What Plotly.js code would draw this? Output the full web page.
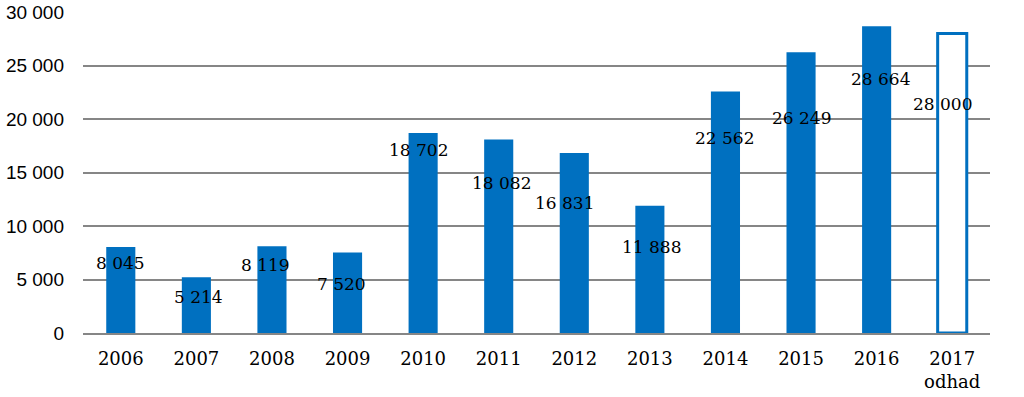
<!DOCTYPE html>
<html>
<head>
<meta charset="utf-8">
<script src="https://cdn.plot.ly/plotly-3.0.1.min.js"></script>
<style>html,body{margin:0;padding:0;background:#fff;}#chart{width:1024px;height:397px;}</style>
</head>
<body>
<div id="chart"></div>
<script>
// Data
const years = ['2006','2007','2008','2009','2010','2011','2012','2013','2014','2015','2016','2017'];
const tickLabels = ['2006','2007','2008','2009','2010','2011','2012','2013','2014','2015','2016','2017<br>odhad'];
const values = [8045, 5214, 8119, 7520, 18702, 18082, 16831, 11888, 22562, 26249, 28664, 28000];
const isEstimate = [false,false,false,false,false,false,false,false,false,false,false,true];

// Label placement offsets (pixels, styling only)
const labelDx = [0, 2, -6, -6, -5, 3, -10, 2, -1, 0, 4, -10];
const labelDy = [-16, -20, -19, -31, -17, -43, -50, -41, -46, -66, -53, -71];

const blue = '#0070C0';
function fmt(v){ return String(v).replace(/\B(?=(\d{3})+(?!\d))/g, ' '); }

const trace = {
  type: 'bar',
  x: years,
  y: values,
  marker: {
    color: isEstimate.map(e => e ? '#ffffff' : blue),
    line: { color: blue, width: isEstimate.map(e => e ? 3 : 0) }
  },
  hoverinfo: 'none'
};

const annotations = years.map((y, i) => ({
  x: i, y: values[i], xref: 'x', yref: 'y',
  text: fmt(values[i]), showarrow: false,
  xanchor: 'center', yanchor: 'middle',
  xshift: labelDx[i], yshift: labelDy[i],
  font: { family: 'DejaVu Serif', size: 17, color: '#000' }
}));

const layout = {
  width: 1024, height: 397,
  margin: { l: 83, r: 34, t: 12, b: 64 },
  paper_bgcolor: '#fff', plot_bgcolor: '#fff',
  bargap: 0.615,
  showlegend: false,
  separators: ', ',
  xaxis: {
    type: 'category',
    categoryorder: 'array', categoryarray: years,
    range: [-0.5, years.length - 0.5],
    tickmode: 'array', tickvals: years, ticktext: tickLabels,
    tickangle: 0,
    showgrid: false, zeroline: false,
    showline: true, linecolor: '#868686', linewidth: 2,
    ticks: '', ticklabelstandoff: 8,
    tickfont: { family: 'DejaVu Serif', size: 18, color: '#000' }
  },
  yaxis: {
    range: [0, 30000], dtick: 5000, tick0: 0,
    tickformat: ',d',
    showgrid: true, gridcolor: '#868686', gridwidth: 2,
    zeroline: false, showline: false, ticks: '',
    ticklabelstandoff: 18,
    tickfont: { family: 'Liberation Sans', size: 19, color: '#000' }
  },
  annotations: annotations
};

Plotly.newPlot('chart', [trace], layout, { displayModeBar: false, staticPlot: true });
</script>
</body>
</html>
